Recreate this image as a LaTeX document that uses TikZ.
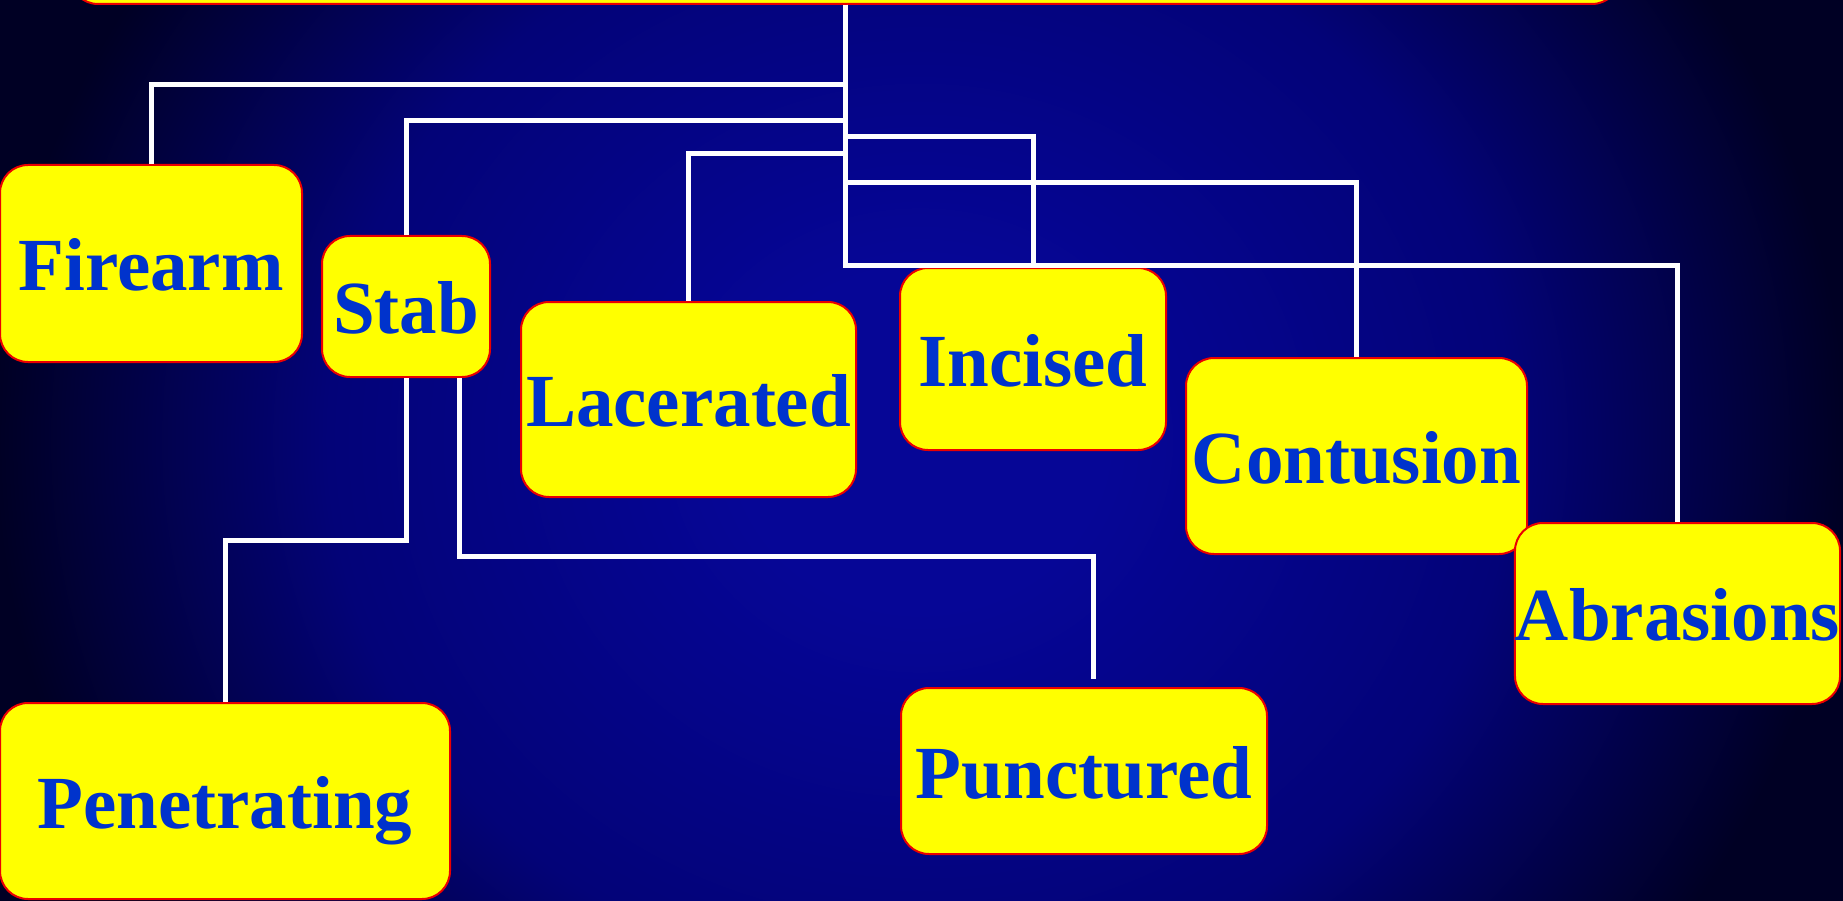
\documentclass[tikz,border=0pt]{standalone}
\usepackage{fontspec}
\setmainfont{Liberation Serif}
\definecolor{boxfill}{RGB}{255,255,0}
\definecolor{boxline}{RGB}{235,0,0}
\definecolor{labelblue}{RGB}{0,51,204}
\definecolor{bginner}{RGB}{6,6,150}
\definecolor{bgmid}{RGB}{3,3,120}
\definecolor{bgouter}{RGB}{0,0,36}
% TikZ fits the central 25bp radius of a shading to the path
\pgfdeclareradialshading{backdrop}{\pgfpointorigin}{color(0bp)=(bginner); color(5bp)=(bginner); color(16bp)=(bgmid); color(25bp)=(bgouter); color(50bp)=(bgouter)}
\begin{document}
\begin{tikzpicture}[x=1pt,y=-1pt,
  wound/.style={rectangle, rounded corners=28pt, fill=boxfill, draw=boxline,
    line width=2pt, text=labelblue, font=\fontsize{75}{80}\selectfont\bfseries,
    text height=54pt, text depth=0pt, inner sep=0pt},
  link/.style={draw=white, line width=5pt}]
\useasboundingbox (0,0) rectangle (1843,901);
\clip (0,0) rectangle (1843,901);
% backdrop
\shade[shading=backdrop] (-5,-410) rectangle (1845,1290);

% boxes
\node[wound, minimum width=1550pt, minimum height=200pt] (root) at (845,-96) {};
\node[wound, minimum width=302pt, minimum height=197pt] (firearm) at (151,263.5) {Firearm};
\node[wound, minimum width=168pt, minimum height=141pt] (stab) at (406,306.5) {Stab};
\node[wound, minimum width=335pt, minimum height=195pt] (lacerated) at (688.5,399.5) {Lacerated};
\node[wound, minimum width=266pt, minimum height=182pt] (incised) at (1033,359) {Incised};
\node[wound, minimum width=341pt, minimum height=196pt] (contusion) at (1356.5,456) {Contusion};
\node[wound, minimum width=325pt, minimum height=181pt] (abrasions) at (1677.5,613.5) {Abrasions};
\node[wound, minimum width=450pt, minimum height=196pt] (penetrating) at (225,801) {Penetrating};
\node[wound, minimum width=366pt, minimum height=166pt] (punctured) at (1084,771) {Punctured};
\coordinate (punctend) at (1093,679);

% connectors from the top box
\draw[link] (root.south) -- ++(0,80) -| (firearm.north);
\draw[link] (root.south) -- ++(0,116) -| (stab.north);
\draw[link] (root.south) -- ++(0,149) -| (lacerated.north);
\draw[link] (root.south) -- ++(0,132) -| (incised.north);
\draw[link] (root.south) -- ++(0,178) -| (contusion.north);
\draw[link] (root.south) -- ++(0,260) -| (abrasions.north);

% connectors below Stab
\draw[link] (stab.south) -- ++(0,162) -| (penetrating.north);
\draw[link] ([xshift=53pt]stab.south) -- ++(0,178) -| (punctend);
\end{tikzpicture}
\end{document}
